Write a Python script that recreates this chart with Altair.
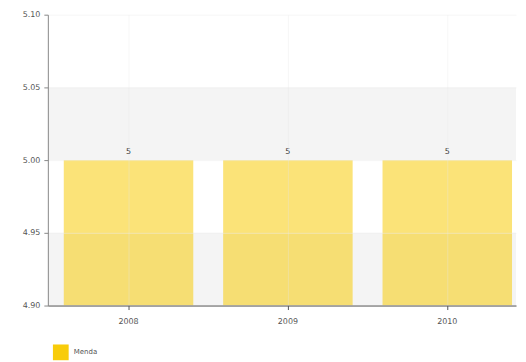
import altair as alt
import pandas as pd

years = ["2008", "2009", "2010"]
values = [5, 5, 5]
series = ["Menda", "Menda", "Menda"]

band_lo = [5.05, 5.00, 4.95, 4.90]
band_hi = [5.10, 5.05, 5.00, 4.95]
band_fill = ["#ffffff", "#f4f4f4", "#ffffff", "#f4f4f4"]

df = pd.DataFrame({"year": years, "value": values, "series": series})
bands = pd.DataFrame({"lo": band_lo, "hi": band_hi, "fill": band_fill})

yscale = alt.Scale(domain=[4.9, 5.1], zero=False, nice=False)
xscale = alt.Scale(domain=years, paddingInner=0.1875, paddingOuter=0.0625, align=0.8)

axis_y = alt.Axis(title=None, values=[4.9, 4.95, 5.0, 5.05, 5.1], format=".2f",
                  labelColor="#555555", labelFontSize=8, labelFont="DejaVu Sans",
                  domainColor="#888888", tickColor="#888888", tickSize=4,
                  grid=True, gridColor="#ececec", gridOpacity=0.5,
                  labelPadding=4, zindex=1)
axis_x = alt.Axis(title=None, labelAngle=0, labelColor="#555555", labelFontSize=8,
                  labelFont="DejaVu Sans", domainColor="#555555", tickColor="#555555",
                  tickSize=4, grid=True, gridColor="#e4e4e4", gridOpacity=0.35,
                  labelPadding=8, zindex=1)

bg = alt.Chart(bands).mark_rect().encode(
    y=alt.Y("lo:Q", scale=yscale, axis=axis_y),
    y2="hi:Q",
    x=alt.value(0),
    x2=alt.value(470),
    color=alt.Color("fill:N", scale=None),
)

bars = alt.Chart(df).mark_bar(clip=True, opacity=0.55).encode(
    x=alt.X("year:N", scale=xscale, axis=axis_x),
    y=alt.Y("value:Q", scale=yscale, axis=axis_y),
    y2=alt.datum(4.9),
    color=alt.Color("series:N", scale=alt.Scale(range=["#f8cc0a"]),
                    legend=alt.Legend(title=None, orient="bottom", symbolType="square",
                                      symbolSize=250, symbolOpacity=1,
                                      labelFontSize=7, labelColor="#555555",
                                      labelFont="DejaVu Sans", offset=14, padding=4)),
)

labels = alt.Chart(df).mark_text(dy=-8, fontSize=8, color="#333333", font="DejaVu Sans").encode(
    x=alt.X("year:N", scale=xscale),
    y=alt.Y("value:Q", scale=yscale),
    text="value:Q",
)

chart = alt.layer(bg, bars, labels).properties(
    width=470, height=292, padding={"left": 14, "top": 2, "right": 2, "bottom": 2}
).configure_view(stroke=None)

chart.save("out.html", embed_options={"renderer": "svg", "actions": False})
